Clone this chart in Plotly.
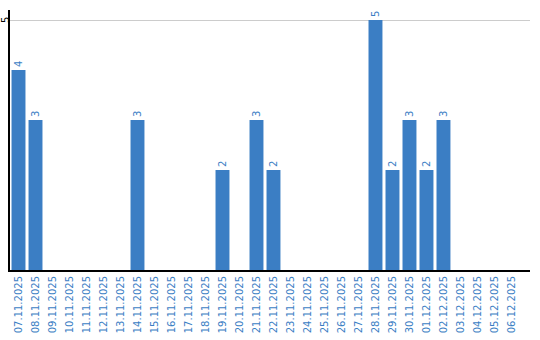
import plotly.graph_objects as go

dates = ["07.11.2025", "08.11.2025", "09.11.2025", "10.11.2025", "11.11.2025",
         "12.11.2025", "13.11.2025", "14.11.2025", "15.11.2025", "16.11.2025",
         "17.11.2025", "18.11.2025", "19.11.2025", "20.11.2025", "21.11.2025",
         "22.11.2025", "23.11.2025", "24.11.2025", "25.11.2025", "26.11.2025",
         "27.11.2025", "28.11.2025", "29.11.2025", "30.11.2025", "01.12.2025",
         "02.12.2025", "03.12.2025", "04.12.2025", "05.12.2025", "06.12.2025"]
counts = [4, 3, 0, 0, 0, 0, 0, 3, 0, 0,
          0, 0, 2, 0, 3, 2, 0, 0, 0, 0,
          0, 5, 2, 3, 2, 3, 0, 0, 0, 0]
y_tick_vals = [5]
y_tick_text = ["5"]

blue = "#3b7ec4"
labels = [str(v) if v else "" for v in counts]
fam = "DejaVu Sans"

fig = go.Figure(go.Bar(
    x=dates, y=counts, text=labels, textposition="outside", textangle=-90,
    textfont=dict(color=blue, size=10, family=fam),
    marker=dict(color=blue, line=dict(width=0)), width=0.82, cliponaxis=False,
))
fig.update_layout(
    width=540, height=340, margin=dict(l=10, r=10, t=10, b=70),
    paper_bgcolor="white", plot_bgcolor="white", showlegend=False,
    font=dict(family=fam, size=10),
    bargap=0.18,
)
for v, t in zip(y_tick_vals, y_tick_text):
    fig.add_annotation(x=0, xref="paper", y=v, yref="y", text=t, textangle=-90,
                       showarrow=False, xanchor="center", yanchor="middle",
                       xshift=-5, borderpad=0,
                       font=dict(color="black", size=10, family=fam))
fig.update_xaxes(type="category", range=[-0.5, 30.09], tickangle=-90,
                 tickfont=dict(color=blue, size=10, family=fam), showline=True,
                 linecolor="black", linewidth=2, ticks="", showgrid=False,
                 automargin=False)
fig.update_yaxes(range=[0, 5.2], tickvals=y_tick_vals, showticklabels=False,
                 showline=True, linecolor="black", linewidth=2,
                 gridcolor="#cccccc", zeroline=False, ticks="", automargin=False)
fig.write_html("out.html")
